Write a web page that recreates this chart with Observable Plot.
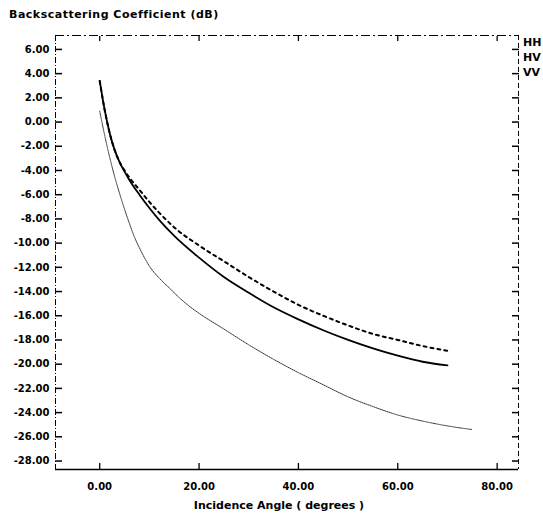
<!DOCTYPE html>
<html><head><meta charset="utf-8">
<script src="https://cdn.jsdelivr.net/npm/d3@7"></script>
<script src="https://cdn.jsdelivr.net/npm/@observablehq/plot@0.6"></script>
<style>
body{margin:0;background:#fff;width:543px;height:519px;overflow:hidden;position:relative;font-family:"DejaVu Sans",sans-serif;color:#000;}
#title{position:absolute;left:9px;top:8px;font-size:11px;line-height:13px;font-weight:bold;letter-spacing:0.5px;white-space:nowrap;}
#chart{position:absolute;left:0;top:25px;}
#legend{position:absolute;left:523px;top:35px;font-size:11px;font-weight:bold;line-height:15px;white-space:nowrap;}
</style></head><body>
<div id="title">Backscattering Coefficient (dB)</div>
<div id="chart"></div>
<div id="legend"></div>
<script>
// Data
const seriesNames = ["HH", "HV", "VV"];
const angleHH = [0,1,2,3,4,5,6,8,10,12,15,20,25,30,35,40,45,50,55,60,65,70];
const valueHH = [3.4,1.0,-0.9,-2.3,-3.3,-4.1,-4.8,-6.0,-7.1,-8.1,-9.4,-11.2,-12.8,-14.1,-15.3,-16.3,-17.2,-18.0,-18.7,-19.3,-19.8,-20.1];
const angleVV = [0,1,2,3,4,5,6,8,10,12,15,20,25,30,35,40,45,50,55,60,65,70];
const valueVV = [3.4,1.0,-0.9,-2.3,-3.3,-4.0,-4.6,-5.6,-6.6,-7.5,-8.7,-10.2,-11.5,-12.8,-14.0,-15.1,-16.0,-16.8,-17.5,-18.0,-18.5,-18.9];
const angleHV = [0,1,2,3,4,5,6,7,8,9,10,12,14,16,18,20,25,30,35,40,45,50,55,60,65,70,75];
const valueHV = [0.9,-1.1,-2.9,-4.5,-5.9,-7.2,-8.4,-9.5,-10.4,-11.2,-11.9,-12.9,-13.7,-14.5,-15.2,-15.8,-17.1,-18.4,-19.6,-20.7,-21.7,-22.7,-23.5,-24.2,-24.7,-25.1,-25.4];
const xTicks = [0,20,40,60,80];
const yTicks = [6,4,2,0,-2,-4,-6,-8,-10,-12,-14,-16,-18,-20,-22,-24,-26,-28];
const xDomain = [-8.9, 84.3];
const yDomain = [-28.7, 7.15];
const xLabel = "Incidence Angle ( degrees )";

const toRows = (name, xs, ys) => xs.map((a, i) => ({series: name, angle: a, value: ys[i]}));
const hh = toRows("HH", angleHH, valueHH);
const hv = toRows("HV", angleHV, valueHV);
const vv = toRows("VV", angleVV, valueVV);
const fmt = d => d.toFixed(2);

const chart = Plot.plot({
  width: 543, height: 494,
  marginTop: 10, marginBottom: 50, marginLeft: 55, marginRight: 25,
  x: {domain: xDomain},
  y: {domain: yDomain},
  style: {fontFamily: "DejaVu Sans", fontWeight: "bold", fontSize: "10px", color: "#000", background: "#fff"},
  marks: [
    Plot.ruleY([yDomain[0]], {stroke: "#000", strokeWidth: 1.6}),
    Plot.ruleY([yDomain[1]], {stroke: "#000", strokeWidth: 1.2, strokeDasharray: "9,3,2,3"}),
    Plot.ruleX([xDomain[0]], {stroke: "#000", strokeWidth: 1, strokeDasharray: "6,2,1,2"}),
    Plot.ruleX([xDomain[1]], {stroke: "#000", strokeWidth: 1, strokeDasharray: "5,3"}),
    Plot.axisY({ticks: yTicks, tickSize: -7, tickPadding: 13, tickFormat: fmt, label: null, strokeWidth: 1.5}),
    Plot.axisY({anchor: "right", ticks: yTicks, tickSize: -7, tickFormat: () => "", label: null, strokeWidth: 1.5}),
    Plot.axisX({ticks: xTicks, tickSize: -6, tickPadding: 19, tickFormat: fmt, label: null, strokeWidth: 1.3}),
    Plot.axisX({anchor: "top", ticks: xTicks, tickSize: -5, tickFormat: () => "", label: null, strokeWidth: 1.3}),
    Plot.text([xLabel], {frameAnchor: "bottom", dy: 39, dx: -8, fontSize: 11, fontWeight: "bold", letterSpacing: "0.4px"}),
    Plot.line(hv, {x: "angle", y: "value", stroke: "#333", strokeWidth: 1, strokeDasharray: "1.2,1", curve: "monotone-x"}),
    Plot.line(vv, {x: "angle", y: "value", stroke: "#000", strokeWidth: 2, strokeDasharray: "3,4", curve: "monotone-x"}),
    Plot.line(hh, {x: "angle", y: "value", stroke: "#000", strokeWidth: 1.8, curve: "monotone-x"})
  ]
});
document.getElementById("chart").appendChild(chart);
document.getElementById("legend").innerHTML = seriesNames.map(s => `<div>${s}</div>`).join("");
</script>
</body></html>
